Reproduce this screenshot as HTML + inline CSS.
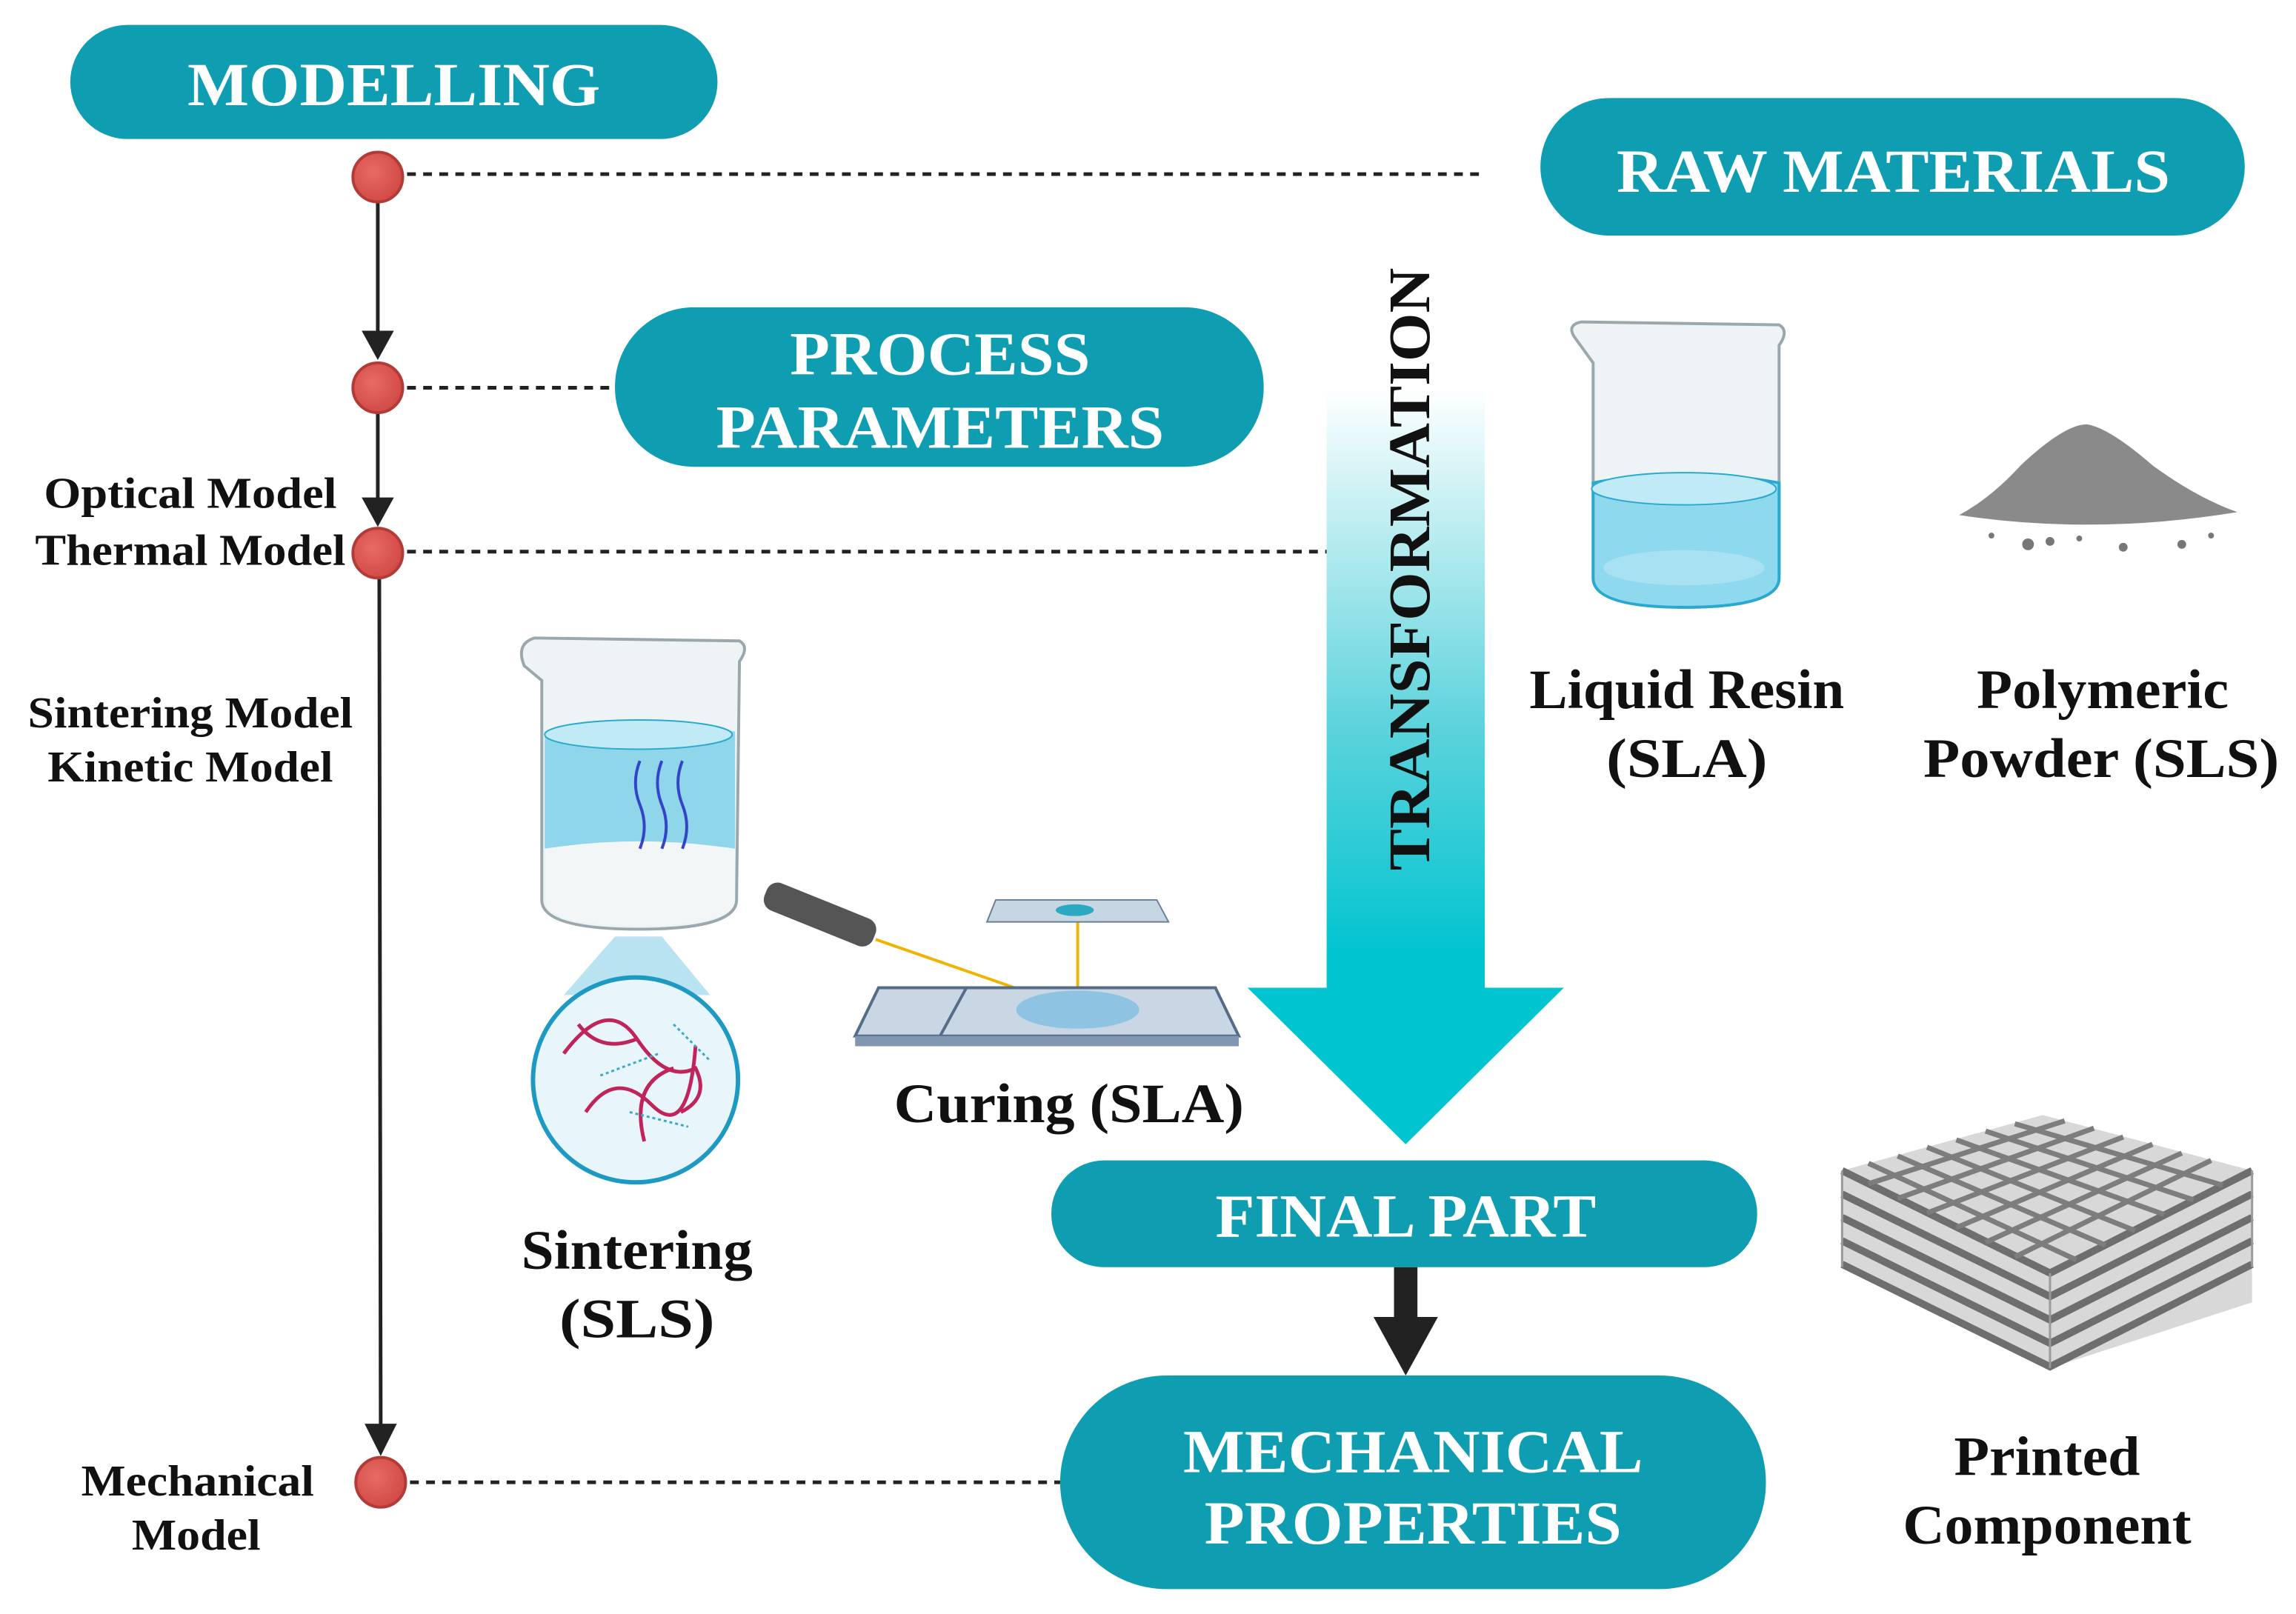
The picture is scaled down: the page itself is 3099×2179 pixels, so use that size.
<!DOCTYPE html>
<html><head><meta charset="utf-8"><style>html,body{margin:0;padding:0;background:#fff}svg{display:block}</style></head>
<body>
<svg width="3099" height="2179" viewBox="0 0 1568 1103" preserveAspectRatio="none" xmlns="http://www.w3.org/2000/svg" font-family="Liberation Serif, serif" font-weight="bold">
<defs>
<linearGradient id="g" x1="0" y1="0" x2="0" y2="1">
<stop offset="0" stop-color="#ffffff"/><stop offset="0.45" stop-color="#5cd3dc"/><stop offset="0.75" stop-color="#00c4d0"/><stop offset="1" stop-color="#00c4d0"/>
</linearGradient>
<radialGradient id="rc" cx="0.4" cy="0.4" r="0.6"><stop offset="0" stop-color="#e86a66"/><stop offset="1" stop-color="#d24b47"/></radialGradient>
</defs>
<g fill="#0f9db1">
<rect x="48" y="17" width="442" height="78" rx="39"/>
<rect x="1052" y="67" width="481" height="94" rx="47"/>
<rect x="420" y="210" width="443" height="109" rx="54"/>
<rect x="718" y="793" width="482" height="73" rx="36"/>
<rect x="724" y="940" width="482" height="146" rx="73"/>
</g>
<g fill="#fff" font-size="42" text-anchor="middle">
<text x="269" y="72" textLength="282" lengthAdjust="spacingAndGlyphs">MODELLING</text>
<text x="1293" y="131" textLength="378" lengthAdjust="spacingAndGlyphs">RAW MATERIALS</text>
<text x="642" y="256" textLength="205" lengthAdjust="spacingAndGlyphs">PROCESS</text>
<text x="642" y="306" textLength="306" lengthAdjust="spacingAndGlyphs">PARAMETERS</text>
<text x="960" y="845" textLength="260" lengthAdjust="spacingAndGlyphs">FINAL PART</text>
<text x="965" y="1006" textLength="314" lengthAdjust="spacingAndGlyphs">MECHANICAL</text>
<text x="965" y="1055" textLength="285" lengthAdjust="spacingAndGlyphs">PROPERTIES</text>
</g>
<g stroke="#222" stroke-width="2.5" stroke-dasharray="6,5">
<line x1="278" y1="119" x2="1012" y2="119"/>
<line x1="278" y1="265" x2="420" y2="265"/>
<line x1="278" y1="377" x2="906" y2="377"/>
<line x1="280" y1="1013" x2="724" y2="1013"/>
</g>
<g stroke="#222" stroke-width="2.5">
<line x1="258" y1="121" x2="258" y2="228"/>
<line x1="258" y1="265" x2="258" y2="342"/>
<line x1="259" y1="378" x2="260" y2="975"/>
</g>
<g fill="#222">
<polygon points="247,226 269,226 258,246"/>
<polygon points="247,340 269,340 258,360"/>
<polygon points="249,973 271,973 260,995"/>
</g>
<g fill="url(#rc)" stroke="#b33a36" stroke-width="2">
<circle cx="258" cy="121" r="17"/>
<circle cx="258" cy="265" r="17"/>
<circle cx="258" cy="378" r="17"/>
<circle cx="260" cy="1013" r="17"/>
</g>
<polygon points="906,265 1014,265 1014,675 1068,675 960,782 852,675 906,675" fill="url(#g)"/>
<text transform="translate(976,389) rotate(-90)" font-size="40" text-anchor="middle" fill="#111" textLength="412" lengthAdjust="spacingAndGlyphs">TRANSFORMATION</text>
<rect x="952" y="866" width="16" height="36" fill="#222"/>
<polygon points="938,900 982,900 960,940" fill="#222"/>
<g fill="#111" text-anchor="middle">
<g font-size="30">
<text x="130" y="347" textLength="200" lengthAdjust="spacingAndGlyphs">Optical Model</text>
<text x="130" y="386" textLength="212" lengthAdjust="spacingAndGlyphs">Thermal Model</text>
<text x="130" y="497" textLength="222" lengthAdjust="spacingAndGlyphs">Sintering Model</text>
<text x="130" y="534" textLength="195" lengthAdjust="spacingAndGlyphs">Kinetic Model</text>
<text x="135" y="1022" textLength="159" lengthAdjust="spacingAndGlyphs">Mechanical</text>
<text x="134" y="1059" textLength="88" lengthAdjust="spacingAndGlyphs">Model</text>
</g>
<g font-size="38">
<text x="1152" y="484" textLength="215" lengthAdjust="spacingAndGlyphs">Liquid Resin</text>
<text x="1152" y="531" textLength="110" lengthAdjust="spacingAndGlyphs">(SLA)</text>
<text x="1436" y="484" textLength="172" lengthAdjust="spacingAndGlyphs">Polymeric</text>
<text x="1435" y="531" textLength="243" lengthAdjust="spacingAndGlyphs">Powder (SLS)</text>
<text x="730" y="767" textLength="239" lengthAdjust="spacingAndGlyphs">Curing (SLA)</text>
<text x="435" y="867" textLength="158" lengthAdjust="spacingAndGlyphs">Sintering</text>
<text x="435" y="914" textLength="106" lengthAdjust="spacingAndGlyphs">(SLS)</text>
<text x="1398" y="1008" textLength="127" lengthAdjust="spacingAndGlyphs">Printed</text>
<text x="1398" y="1055" textLength="197" lengthAdjust="spacingAndGlyphs">Component</text>
</g>
</g>
<!-- right beaker -->
<g>
<path d="M1075,230 Q1070,222 1080,220 L1215,222 Q1222,226 1215,236 L1215,395 Q1215,415 1150,415 Q1088,415 1088,395 L1088,248 Z" fill="#eef4f6" stroke="#9aa8ad" stroke-width="2"/>
<path d="M1088,330 Q1150,318 1215,330 L1215,395 Q1215,415 1150,415 Q1088,415 1088,395 Z" fill="#8fd9ee" stroke="#2aa9d0" stroke-width="2"/>
<ellipse cx="1150" cy="334" rx="63" ry="11" fill="#bfeaf6" stroke="#2aa9d0"/>
<ellipse cx="1150" cy="388" rx="55" ry="12" fill="#a8e2f2"/>
</g>
<!-- powder -->
<path d="M1338,352 Q1360,340 1380,318 Q1410,290 1425,290 Q1440,292 1470,318 Q1500,340 1528,350 Q1430,366 1338,352 Z" fill="#8a8a8a"/>
<g fill="#777"><circle cx="1385" cy="372" r="4"/><circle cx="1400" cy="370" r="3"/><circle cx="1490" cy="372" r="3"/><circle cx="1360" cy="366" r="2"/><circle cx="1450" cy="374" r="3"/><circle cx="1420" cy="368" r="2"/><circle cx="1510" cy="366" r="2"/></g>
<!-- left beaker -->
<g>
<path d="M358,455 Q352,440 365,436 L505,438 Q512,442 505,452 L503,615 Q503,635 436,635 Q370,635 370,615 L370,465 Z" fill="#eef4f6" stroke="#9aa8ad" stroke-width="2"/>
<path d="M372,500 Q436,488 502,500 L502,615 Q502,633 436,633 Q372,633 372,615 Z" fill="#8fd6ea"/>
<path d="M372,580 Q436,570 502,580 L502,615 Q502,633 436,633 Q372,633 372,615 Z" fill="#f2f6f7"/>
<ellipse cx="436" cy="502" rx="64" ry="10" fill="#bfeaf6" stroke="#2aa9d0"/>
<g stroke="#3444c8" stroke-width="2" fill="none"><path d="M437,520 q-6,15 0,30 t0,30"/><path d="M452,520 q-6,15 0,30 t0,30"/><path d="M466,520 q-6,15 0,30 t0,30"/></g>
</g>
<polygon points="420,640 452,640 485,680 385,680" fill="#a9dcef" opacity="0.8"/>
<circle cx="434" cy="738" r="70" fill="#e8f6fb" stroke="#1d9ac4" stroke-width="3"/>
<g stroke="#c0245a" stroke-width="2.5" fill="none">
<path d="M385,720 q30,-40 50,-10 t40,20 q10,20 -10,30"/><path d="M400,760 q20,-30 45,-5 t30,-40"/><path d="M440,780 q-10,-40 20,-50"/><path d="M395,700 q15,20 40,10"/>
</g>
<g stroke="#3aa8c8" stroke-width="1.5" stroke-dasharray="2,2" fill="none"><path d="M410,735 l40,-15"/><path d="M430,760 l40,10"/><path d="M460,700 l25,25"/></g>
<!-- laser -->
<rect x="520" y="615" width="80" height="20" rx="8" fill="#555" transform="rotate(22 560 625)"/>
<line x1="598" y1="642" x2="736" y2="690" stroke="#f0b400" stroke-width="2"/>
<line x1="736" y1="690" x2="736" y2="625" stroke="#f0b400" stroke-width="2"/>
<polygon points="680,615 790,615 798,630 674,630" fill="#c6d6e2" stroke="#6a7f96"/>
<ellipse cx="734" cy="622" rx="13" ry="4" fill="#2aa9c0"/>
<polygon points="600,675 830,675 846,708 584,708" fill="#c8d7e3" stroke="#556b88" stroke-width="2"/>
<line x1="660" y1="675" x2="642" y2="708" stroke="#556b88" stroke-width="2"/>
<rect x="584" y="708" width="262" height="7" fill="#8196b0"/>
<ellipse cx="736" cy="690" rx="42" ry="13" fill="#8ec3e2"/>
<!-- lattice -->
<polygon points="1258,800 1395,762 1538,800 1538,890 1400,935 1258,865" fill="#d8d8d8"/>
<g fill="none" stroke="#6e6e6e" stroke-width="5">
<path d="M1258,800 L1400,870 L1538,800"/>
<path d="M1258,816 L1400,886 L1538,816"/>
<path d="M1258,832 L1400,902 L1538,832"/>
<path d="M1258,848 L1400,918 L1538,848"/>
<path d="M1258,864 L1400,934 L1538,864"/>
</g>
<g stroke="#7d7d7d" stroke-width="3.5">
<line x1="1276" y1="795" x2="1418" y2="861"/><line x1="1296" y1="790" x2="1438" y2="851"/><line x1="1316" y1="784" x2="1458" y2="841"/><line x1="1336" y1="779" x2="1478" y2="830"/><line x1="1356" y1="773" x2="1498" y2="820"/><line x1="1376" y1="768" x2="1518" y2="810"/>
<line x1="1276" y1="809" x2="1410" y2="766"/><line x1="1296" y1="819" x2="1430" y2="771"/><line x1="1316" y1="829" x2="1450" y2="777"/><line x1="1336" y1="839" x2="1470" y2="782"/><line x1="1356" y1="849" x2="1490" y2="788"/><line x1="1376" y1="859" x2="1510" y2="793"/>
</g>
<g stroke="#999" stroke-width="1.5">
<line x1="1258" y1="800" x2="1258" y2="866"/><line x1="1400" y1="870" x2="1400" y2="935"/><line x1="1538" y1="800" x2="1538" y2="866"/>
</g>
</svg>
</body></html>
